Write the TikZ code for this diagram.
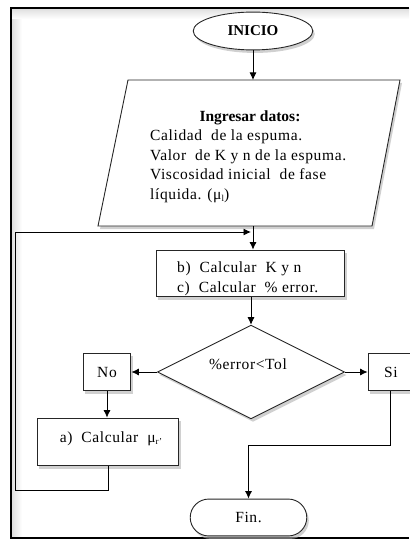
\documentclass[tikz,border=0pt]{standalone}
\usepackage{fontspec}
\setmainfont{Liberation Serif}[LetterSpace=4.0, BoldFeatures={LetterSpace=0}]
\usetikzlibrary{arrows.meta,shapes.geometric,shapes.misc,shadows,calc}

\tikzset{
  x=1bp, y=-1bp,
  txt/.style={font=\fontsize{15.5bp}{19.5bp}\selectfont, inner sep=0pt},
  shade box/.style={drop shadow={shadow xshift=2bp, shadow yshift=-3bp, fill=black!30, opacity=0.6}},
  shapebox/.style={draw=black!85, line width=0.9bp, fill=white, shade box},
  stepbox/.style={shapebox, rectangle, inner sep=0pt},
  flow/.style={draw=black, line width=0.9bp},
  arr/.style={flow, -{Latex[length=7.5bp,width=7bp]}},
}

\begin{document}
\begin{tikzpicture}
  % page area
  \useasboundingbox (0,0) rectangle (409,540);
  \fill[white] (0,0) rectangle (409,540);
  % soft inner edge of the frame
  \shade[left color=black!12, right color=white] (12,9) rectangle (22,537);
  \shade[top color=black!12, bottom color=white] (12,9) rectangle (409,19);
  % frame
  \draw[line width=2.4bp, black] (409,8) -- (11,8) -- (11,538) -- (409,538);

  % start terminal
  \node[shapebox, ellipse, minimum width=120, minimum height=38, inner sep=0pt,
        font=\fontsize{15bp}{18bp}\selectfont\bfseries] (inicio) at (253,31) {INICIO};

  % input parallelogram
  \draw[shapebox] (128,80) -- (400,80) -- (372,226) -- (98,226) -- cycle;
  \coordinate (dtop) at (253,80);
  \coordinate (dbot) at (253,226);
  \node[txt, anchor=base, font=\fontsize{15.5bp}{19.5bp}\selectfont\bfseries] (dtitle) at (250,122) {Ingresar datos:};
  \node[txt, anchor=base west] (dl1) at (150,141) {Calidad\ \ de la espuma.};
  \node[txt, anchor=base west] (dl2) at (150,160.5) {Valor\ \ de K y n de la espuma.};
  \node[txt, anchor=base west] (dl3) at (150,180) {Viscosidad inicial\ \ de fase};
  \node[txt, anchor=base west] (dl4) at (150,199.5) {líquida. (μ{\fontsize{9bp}{10bp}\selectfont\raisebox{-2bp}{l}})};

  % computation box
  \node[stepbox, minimum width=189, minimum height=47] (calc) at (250.5,273.5) {};
  \node[txt, anchor=base west] (cl1) at (177,272) {b)\ \ Calcular\ \ K y n};
  \node[txt, anchor=base west] (cl2) at (177,292) {c)\ \ Calcular\ \ \% error.};

  % decision
  \node[shapebox, diamond, minimum width=188, minimum height=94, inner sep=0pt] (dec) at (251,372) {};
  \node[txt] (dectext) at (248,364) {\%error<Tol};

  % branches
  \node[stepbox, minimum width=48, minimum height=38, txt, draw=black!85, line width=0.9bp] (no) at (107,372) {No};
  \node[stepbox, minimum width=46, minimum height=38, txt, draw=black!85, line width=0.9bp] (si) at (391,372) {Si};

  \node[stepbox, minimum width=142, minimum height=48] (mu) at (108,442) {};
  \node[txt] (mutext) at (111,439) {a)\ \ Calcular\ \ μ{\fontsize{9bp}{10bp}\selectfont\raisebox{-2bp}{r'}}};

  % end terminal
  \node[shapebox, rounded rectangle, minimum width=117, minimum height=37, inner sep=0pt, txt] (fin) at (248.5,517.5) {Fin.};

  % connectors
  \draw[arr] (inicio.south) -- (dtop);
  \draw[arr] (dbot) -- (dbot |- calc.north);
  \draw[arr] (calc.south -| dec.north) -- (dec.north);
  \draw[arr] (dec.west) -- (no.east);
  \draw[arr] (dec.east) -- (si.west);
  \draw[arr] (no.south) -- (no.south |- mu.north);

  % loop back
  \coordinate (lp1) at (108,490);
  \coordinate (lp2) at (15.5,490);
  \coordinate (lp3) at (15.5,232);
  \coordinate (lp4) at (251,232);
  \draw[flow] (mu.south) -- (lp1) -- (lp2) -- (lp3);
  \draw[arr] (lp3) -- (lp4);

  % exit path
  \coordinate (ex1) at (390,445);
  \coordinate (ex2) at (248.5,445);
  \draw[flow] (si.south -| ex1) -- (ex1) -- (ex2);
  \draw[arr] (ex2) -- (fin.north);
\end{tikzpicture}
\end{document}
